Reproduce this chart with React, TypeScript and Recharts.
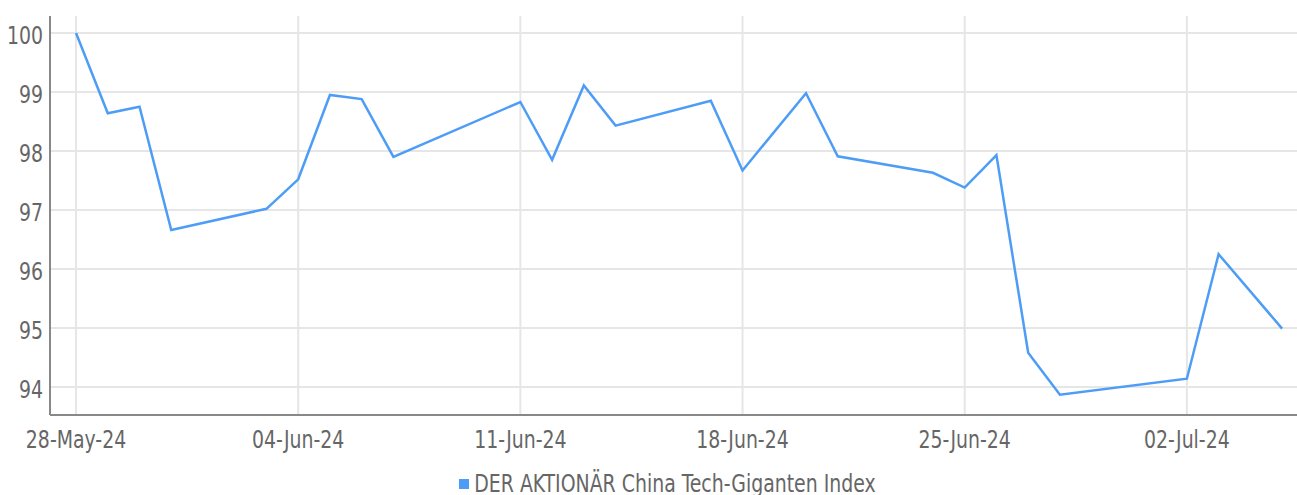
import React from 'react';
import { LineChart, Line, XAxis, YAxis, ReferenceLine, Legend } from 'recharts';

const dates = [
  '2024-05-28', '2024-05-29', '2024-05-30', '2024-05-31', '2024-06-03', '2024-06-04',
  '2024-06-05', '2024-06-06', '2024-06-07', '2024-06-11', '2024-06-12', '2024-06-13',
  '2024-06-14', '2024-06-17', '2024-06-18', '2024-06-20', '2024-06-21', '2024-06-24',
  '2024-06-25', '2024-06-26', '2024-06-27', '2024-06-28', '2024-07-02', '2024-07-03',
  '2024-07-05',
];
const indexValues = [
  100.0, 98.64, 98.75, 96.66, 97.02, 97.52,
  98.95, 98.88, 97.9, 98.83, 97.85, 99.11,
  98.43, 98.85, 97.67, 98.98, 97.91, 97.63,
  97.38, 97.93, 94.58, 93.87, 94.14, 96.25,
  94.99,
];
const xTickDates = ['2024-05-28', '2024-06-04', '2024-06-11', '2024-06-18', '2024-06-25', '2024-07-02'];
const xTickLabels = ['28-May-24', '04-Jun-24', '11-Jun-24', '18-Jun-24', '25-Jun-24', '02-Jul-24'];
const yTicks = [94, 95, 96, 97, 98, 99, 100];
const seriesName = 'DER AKTIONÄR China Tech-Giganten Index';

const DAY = 86400000;
const START = Date.parse('2024-05-28T00:00:00Z');
const toDay = (s: string) => (Date.parse(s + 'T00:00:00Z') - START) / DAY;

const data = dates.map((d, i) => ({ day: toDay(d), value: indexValues[i] }));
const xTicks = xTickDates.map(toDay);
const labelFor = (v: number) => {
  const i = xTicks.indexOf(v);
  return i >= 0 ? xTickLabels[i] : '';
};

const FONT = "'Liberation Sans Narrow', 'DejaVu Sans Condensed', sans-serif";
const FONT_SIZE = 21;
const STRETCH = 1.2;
const LINE_COLOR = '#4d9df7';
const TEXT_COLOR = '#666666';
const GRID_COLOR = '#e6e6e6';

const XTick = (props: any) => {
  const { x, y, payload } = props;
  return (
    <text
      transform={`translate(${x},${y}) scale(1,${STRETCH})`}
      x={0}
      y={0}
      dy="0.71em"
      textAnchor="middle"
      fill={TEXT_COLOR}
      fontFamily={FONT}
      fontSize={FONT_SIZE}
    >
      {labelFor(payload.value)}
    </text>
  );
};

const YTick = (props: any) => {
  const { x, y, payload } = props;
  return (
    <text
      transform={`translate(${x},${y}) scale(1,${STRETCH})`}
      x={0}
      y={0}
      dy={9.2}
      textAnchor="end"
      fill={TEXT_COLOR}
      fontFamily={FONT}
      fontSize={FONT_SIZE}
    >
      {payload.value}
    </text>
  );
};

const renderLegend = () => (
  <div
    style={{
      display: 'flex',
      justifyContent: 'center',
      alignItems: 'center',
      fontFamily: FONT,
      fontSize: FONT_SIZE,
      color: TEXT_COLOR,
      lineHeight: '24px',
    }}
  >
    <span style={{ display: 'inline-block', width: 10, height: 10, background: LINE_COLOR, marginRight: 5 }} />
    <span style={{ display: 'inline-block', transform: `scaleY(${STRETCH})` }}>{seriesName}</span>
  </div>
);

export default function App() {
  return (
    <div style={{ position: 'absolute', left: 0, top: 0, background: '#fff' }}>
      <LineChart
        width={1297}
        height={495}
        data={data}
        margin={{ top: 16, right: 0, left: 0, bottom: 0 }}
      >
        <XAxis
          dataKey="day"
          type="number"
          domain={[-0.82, 38.47]}
          ticks={xTicks}
          allowDataOverflow
          height={45}
          tickLine={false}
          tickSize={0}
          tickMargin={15}
          stroke="#888888"
          strokeWidth={2}
          tick={<XTick />}
        />
        <YAxis
          type="number"
          domain={[93.525, 100.288]}
          ticks={yTicks}
          allowDataOverflow
          width={50}
          tickLine={false}
          tickSize={0}
          tickMargin={7}
          stroke="#888888"
          strokeWidth={2}
          tick={<YTick />}
        />
        {yTicks.map((t) => (
          <ReferenceLine key={`h${t}`} y={t} stroke={GRID_COLOR} strokeWidth={2} />
        ))}
        {xTicks.map((t) => (
          <ReferenceLine key={`v${t}`} x={t} stroke={GRID_COLOR} strokeWidth={2} />
        ))}
        <Legend
          verticalAlign="bottom"
          height={35}
          content={renderLegend}
          wrapperStyle={{ left: 44, width: 1247, top: 472 }}
        />
        <Line
          type="linear"
          dataKey="value"
          name={seriesName}
          stroke={LINE_COLOR}
          strokeWidth={2.5}
          dot={false}
          isAnimationActive={false}
        />
      </LineChart>
    </div>
  );
}
